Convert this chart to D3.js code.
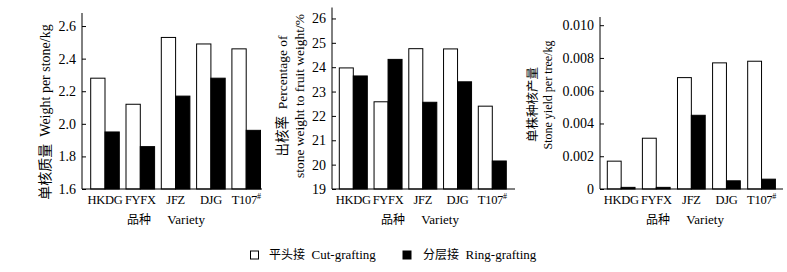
<!DOCTYPE html>
<html><head><meta charset="utf-8">
<script src="https://cdn.jsdelivr.net/npm/d3@7"></script>
<style>
body{margin:0;background:#fff;}
svg{display:block;font-family:"Liberation Serif","Times New Roman","Noto Sans CJK SC",serif;}
</style></head>
<body>
<svg id="chart" width="787" height="272"></svg>
<script>
// ---- data ----
const varieties = ["HKDG", "FYFX", "JFZ", "DJG", "T107#"];
const series = ["cut", "ring"];
const weightCut  = [2.28, 2.12, 2.53, 2.49, 2.46];
const weightRing = [1.95, 1.86, 2.17, 2.28, 1.96];
const pctCut  = [23.97, 22.58, 24.76, 24.75, 22.40];
const pctRing = [23.64, 24.32, 22.56, 23.40, 20.15];
const yieldCut  = [0.0017, 0.0031, 0.0068, 0.0077, 0.0078];
const yieldRing = [0.0001, 0.0001, 0.0045, 0.0005, 0.0006];
const weightTicks = [1.6, 1.8, 2.0, 2.2, 2.4, 2.6];
const pctTicks = [19, 20, 21, 22, 23, 24, 25, 26];
const yieldTicks = [0, 0.002, 0.004, 0.006, 0.008, 0.010];
const xTitle = ["品种", "Variety"];
const legendLabels = [["平头接", "Cut-grafting"], ["分层接", "Ring-grafting"]];

// ---- layout ----
const svg = d3.select("#chart");
const baseY = 189;
const panels = [
  { cut: weightCut, ring: weightRing, ticks: weightTicks, fmt: d3.format(".1f"),
    domain: [1.6, 2.68], axisX: 82, axisEnd: 262, yTop: 13,
    band: [90.7, 260.5], pad: 0.19,
    labels: [{ lines: [["单核质量", "  Weight per stone/kg"]], xs: [45], cy: 112, size: 14 }],
    xTitleX: 166 },
  { cut: pctCut, ring: pctRing, ticks: pctTicks, fmt: d3.format("d"),
    domain: [19, 26.45], axisX: 332, axisEnd: 515, yTop: 7.5,
    band: [339.3, 506.3], pad: 0.194,
    labels: [{ lines: [["出核率", "  Percentage of"], ["", "stone weight to fruit weight/%"]], xs: [282, 299.5], cy: 96, size: 13.5 }],
    xTitleX: 420 },
  { cut: yieldCut, ring: yieldRing, ticks: yieldTicks, fmt: d => d === 0 ? "0" : d3.format(".3f")(d),
    domain: [0, 0.0105], axisX: 600, axisEnd: 783, yTop: 17,
    band: [607.3, 775.4], pad: 0.21,
    labels: [{ lines: [["单株种核产量", ""]], xs: [533], cy: 104.5, size: 12.5 },
             { lines: [["", "Stone yield per tree/kg"]], xs: [548], cy: 95, size: 12 }],
    xTitleX: 685 }
];

panels.forEach(p => {
  const g = svg.append("g");
  const y = d3.scaleLinear().domain(p.domain).range([baseY, p.yTop]);
  const x = d3.scaleBand().domain(varieties).range(p.band).paddingInner(p.pad).paddingOuter(0);
  const xi = d3.scaleBand().domain(series).range([0, x.bandwidth()]);

  // bars
  const rows = varieties.map((v, i) => ({ v, cut: p.cut[i], ring: p.ring[i] }));
  const grp = g.selectAll("g.grp").data(rows).join("g").attr("class", "grp")
    .attr("transform", d => `translate(${x(d.v)},0)`);
  grp.selectAll("rect").data(d => series.map(s => ({ s, val: d[s] }))).join("rect")
    .attr("x", d => xi(d.s))
    .attr("width", xi.bandwidth())
    .attr("y", d => y(d.val))
    .attr("height", d => baseY - y(d.val))
    .attr("fill", d => d.s === "cut" ? "#fff" : "#000")
    .attr("stroke", "#000").attr("stroke-width", 1);

  // y axis
  const ya = g.append("g").attr("transform", `translate(${p.axisX},0)`)
    .call(d3.axisLeft(y).tickValues(p.ticks).tickFormat(p.fmt).tickSizeInner(-4).tickSizeOuter(0).tickPadding(6));
  ya.select(".domain").remove();
  ya.selectAll("text").attr("font-size", 14).attr("font-family", "Liberation Serif").attr("fill", "#000");
  ya.selectAll("line").attr("stroke", "#000");
  g.append("line").attr("x1", p.axisX).attr("x2", p.axisX).attr("y1", y(p.domain[1])).attr("y2", baseY)
    .attr("stroke", "#000").attr("stroke-width", 1);

  // x axis
  g.append("line").attr("x1", p.axisX).attr("x2", p.axisEnd).attr("y1", baseY).attr("y2", baseY)
    .attr("stroke", "#000").attr("stroke-width", 1);
  const xa = g.append("g").attr("transform", `translate(0,${baseY})`)
    .call(d3.axisBottom(x).tickSize(0).tickPadding(6));
  xa.select(".domain").remove();
  xa.selectAll("text").attr("font-size", 12.5).attr("letter-spacing", "-0.3px")
    .attr("font-family", "Liberation Serif").attr("fill", "#000")
    .each(function(d) {
      const t = d3.select(this);
      if (d.endsWith("#")) {
        t.text(d.slice(0, -1));
        t.append("tspan").attr("font-size", 8).attr("dy", "-0.6em").text("#");
      }
    });

  // x title
  const xt = g.append("text").attr("x", p.xTitleX).attr("y", 224).attr("text-anchor", "middle")
    .attr("font-size", 13);
  xt.append("tspan").attr("font-family", "Noto Sans CJK SC").attr("font-size", 12).text(xTitle[0]);
  xt.append("tspan").attr("font-family", "Liberation Serif").text("\u00a0\u00a0\u00a0\u00a0\u00a0" + xTitle[1]);

  // y titles
  p.labels.forEach(lb => {
    lb.lines.forEach((ln, k) => {
      const t = g.append("text").attr("text-anchor", "middle").attr("font-size", lb.size)
        .attr("transform", `translate(${lb.xs[k]},${lb.cy}) rotate(-90)`).attr("dy", "0.35em");
      if (ln[0]) t.append("tspan").attr("font-family", "Noto Sans CJK SC").text(ln[0]);
      if (ln[1]) t.append("tspan").attr("font-family", "Liberation Serif")
        .text(ln[1].replace(/^ +/, m => "\u00a0".repeat(m.length)));
    });
  });
});

// legend
const leg = svg.append("g");
const legItems = [
  { fill: "#fff", bx: 250.5, tx: 269, labels: legendLabels[0] },
  { fill: "#000", bx: 403, tx: 423, labels: legendLabels[1] }
];
legItems.forEach(it => {
  leg.append("rect").attr("x", it.bx).attr("y", 251).attr("width", 8).attr("height", 8)
    .attr("fill", it.fill).attr("stroke", "#000").attr("stroke-width", 1);
  const t = leg.append("text").attr("x", it.tx).attr("y", 259).attr("font-size", 13);
  t.append("tspan").attr("font-family", "Noto Sans CJK SC").attr("font-size", 12).text(it.labels[0]);
  t.append("tspan").attr("font-family", "Liberation Serif").text("\u00a0\u00a0" + it.labels[1]);
});
</script>
</body></html>
